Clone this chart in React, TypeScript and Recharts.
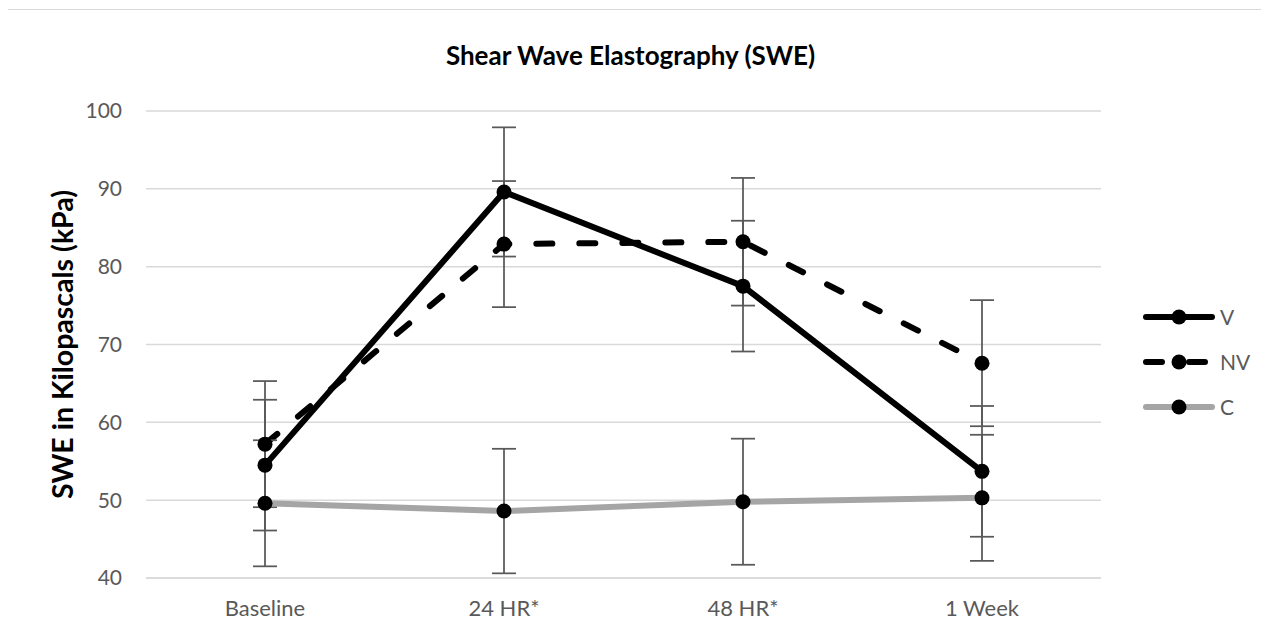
import React from 'react';
import { LineChart, Line, XAxis, YAxis, CartesianGrid, ErrorBar, Label } from 'recharts';

const categories = ['Baseline', '24 HR*', '48 HR*', '1 Week'];
const vValues = [54.5, 89.6, 77.5, 53.7];
const vErrors = [8.4, 8.3, 8.4, 8.4];
const nvValues = [57.2, 82.9, 83.2, 67.6];
const nvErrors = [8.1, 8.1, 8.2, 8.1];
const cValues = [49.6, 48.6, 49.8, 50.3];
const cErrors = [8.1, 8.0, 8.1, 8.1];
const yTicks = [40, 50, 60, 70, 80, 90, 100];

const data = categories.map((name, i) => ({
  name,
  V: vValues[i],
  vErr: vErrors[i],
  NV: nvValues[i],
  nvErr: nvErrors[i],
  C: cValues[i],
  cErr: cErrors[i],
}));

const FONT = 'Lato, "Open Sans", sans-serif';

const dot = (props: any) => {
  const { cx, cy, index } = props;
  return <circle key={index} cx={cx} cy={cy} r={7.5} fill="#000" stroke="none" />;
};

const legendItems = [
  { name: 'V', color: '#000', dash: undefined as string | undefined },
  { name: 'NV', color: '#000', dash: '16 27' },
  { name: 'C', color: '#A5A5A5', dash: undefined as string | undefined },
];

export default function App() {
  return (
    <div style={{ position: 'relative', width: 1255, height: 640, border: '1px solid #D9D9D9', boxSizing: 'border-box', marginLeft: -1, marginTop: 1, fontFamily: FONT }}>
      <div style={{ position: 'absolute', left: -5, top: 29, width: 1255, textAlign: 'center', fontSize: 26, fontWeight: 700, color: '#000', fontFamily: FONT }}>
        Shear Wave Elastography (SWE)
      </div>
      <div style={{ position: 'absolute', left: 0, top: 0 }}>
        <LineChart width={1253} height={620} data={data} margin={{ top: 101, right: 160, left: 0, bottom: 12 }}>
          <CartesianGrid vertical={false} stroke="#D9D9D9" strokeWidth={1.5} />
          <XAxis
            dataKey="name"
            tickLine={false}
            axisLine={{ stroke: '#D9D9D9', strokeWidth: 1.5 }}
            tick={{ fill: '#595959', fontSize: 22, fontFamily: FONT }}
            tickMargin={16}
            height={40}
            padding={{ left: 119, right: 119 }}
          />
          <YAxis
            domain={[40, 100]}
            ticks={yTicks}
            width={138}
            tickLine={false}
            axisLine={false}
            tickSize={0}
            tickMargin={24}
            tick={{ fill: '#595959', fontSize: 21, fontFamily: FONT }}
          >
            <Label
              value="SWE in Kilopascals (kPa)"
              angle={-90}
              position="insideLeft"
              offset={55}
              style={{ fill: '#000', fontSize: 28.5, fontWeight: 700, fontFamily: FONT, textAnchor: 'middle' }}
            />
          </YAxis>
          <Line dataKey="V" stroke="#000" strokeWidth={6} dot={dot} activeDot={false} isAnimationActive={false} strokeLinecap="round" strokeLinejoin="round">
            <ErrorBar dataKey="vErr" direction="y" width={12} stroke="#595959" strokeWidth={1.75} />
          </Line>
          <Line dataKey="NV" stroke="#000" strokeWidth={6} strokeDasharray="16 27" strokeLinecap="round" dot={dot} activeDot={false} isAnimationActive={false}>
            <ErrorBar dataKey="nvErr" direction="y" width={12} stroke="#595959" strokeWidth={1.75} />
          </Line>
          <Line dataKey="C" stroke="#A5A5A5" strokeWidth={6} dot={dot} activeDot={false} isAnimationActive={false} strokeLinecap="round" strokeLinejoin="round">
            <ErrorBar dataKey="cErr" direction="y" width={12} stroke="#595959" strokeWidth={1.75} />
          </Line>
        </LineChart>
      </div>
      <svg style={{ position: 'absolute', left: 1125, top: 285 }} width={130} height={150}>
        {legendItems.map((it, i) => {
          const y = 22 + i * 45;
          return (
            <g key={it.name}>
              <line x1={13} x2={79} y1={y} y2={y} stroke={it.color} strokeWidth={6} strokeLinecap="round" strokeDasharray={it.dash} />
              <circle cx={46} cy={y} r={7.5} fill="#000" />
              <text x={87} y={y} dy="0.36em" fill="#595959" fontSize={21} fontFamily={FONT}>{it.name}</text>
            </g>
          );
        })}
      </svg>
    </div>
  );
}
